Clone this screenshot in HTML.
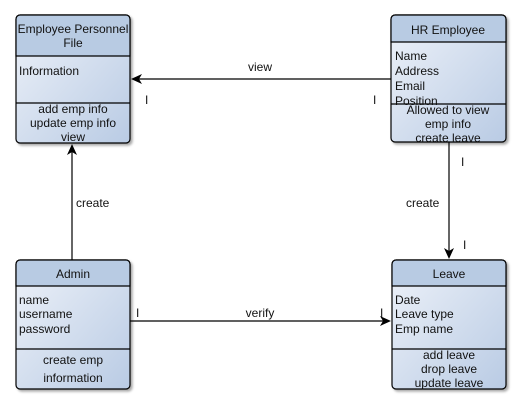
<!DOCTYPE html>
<html><head><style>body{margin:0;background:#fff}svg{display:block}text{font-family:"Liberation Sans",sans-serif;font-size:12px;fill:#111}</style></head><body>
<svg width="521" height="409" xmlns="http://www.w3.org/2000/svg">
<defs>
<linearGradient id="g" x1="0" y1="0" x2="1" y2="1"><stop offset="0" stop-color="#eef2f9"/><stop offset="1" stop-color="#b9cbe4"/></linearGradient>
<filter id="s" x="-10%" y="-10%" width="130%" height="130%"><feDropShadow dx="2" dy="2" stdDeviation="1.2" flood-color="#000" flood-opacity="0.35"/></filter>
</defs>
<g stroke="#000" stroke-width="1.2">
<rect x="16" y="15" width="114" height="128" rx="4" fill="url(#g)" filter="url(#s)"/>
<path d="M20 15h106a4 4 0 0 1 4 4v37H16V19a4 4 0 0 1 4-4z" fill="#b8cbe3"/>
<line x1="16" y1="103" x2="130" y2="103"/>
<rect x="391" y="15" width="115" height="127" rx="4" fill="url(#g)" filter="url(#s)"/>
<path d="M395 15h107a4 4 0 0 1 4 4v23H391V19a4 4 0 0 1 4-4z" fill="#b8cbe3"/>
<line x1="391" y1="104" x2="506" y2="104"/>
<rect x="16" y="260" width="114" height="129" rx="4" fill="url(#g)" filter="url(#s)"/>
<path d="M20 260h106a4 4 0 0 1 4 4v22H16v-22a4 4 0 0 1 4-4z" fill="#b8cbe3"/>
<line x1="16" y1="349" x2="130" y2="349"/>
<rect x="392" y="260" width="114" height="129" rx="4" fill="url(#g)" filter="url(#s)"/>
<path d="M396 260h106a4 4 0 0 1 4 4v22H392v-22a4 4 0 0 1 4-4z" fill="#b8cbe3"/>
<line x1="392" y1="349" x2="506" y2="349"/>
<line x1="391" y1="79" x2="134" y2="79"/>
<line x1="72" y1="260" x2="72" y2="147"/>
<line x1="449" y1="142" x2="449" y2="256"/>
<line x1="130" y1="321" x2="388" y2="321"/>
</g>
<g fill="#000">
<path d="M131 79l11-5-3 5 3 5z"/>
<path d="M72 144l-5 11 5-3 5 3z"/>
<path d="M449 259l-5-11 5 3 5-3z"/>
<path d="M391 321l-11-5 3 5-3 5z"/>
</g>
<g text-anchor="middle">
<text x="73" y="33">Employee Personnel</text><text x="73" y="47">File</text>
<text x="73" y="113">add emp info</text><text x="73" y="127">update emp info</text><text x="73" y="141">view</text>
<text x="448" y="34">HR Employee</text>
<text x="448" y="114">Allowed to view</text><text x="448" y="128">emp info</text><text x="448" y="142">create leave</text>
<text x="73" y="278">Admin</text>
<text x="73" y="364">create emp</text><text x="73" y="382">information</text>
<text x="449" y="278">Leave</text>
<text x="449" y="359">add leave</text><text x="449" y="373">drop leave</text><text x="449" y="387">update leave</text>
<text x="260" y="71">view</text>
<text x="260" y="317">verify</text>
</g>
<text x="19" y="75">Information</text>
<text x="395" y="60">Name</text><text x="395" y="75">Address</text><text x="395" y="90">Email</text><text x="395" y="105">Position</text>
<text x="19" y="304">name</text><text x="19" y="318">username</text><text x="19" y="333">password</text>
<text x="395" y="304">Date</text><text x="395" y="318">Leave type</text><text x="395" y="333">Emp name</text>
<text x="76" y="207">create</text>
<text x="406" y="207">create</text>
<text x="145" y="104">I</text><text x="373" y="104">I</text>
<text x="461" y="166">I</text><text x="463" y="249">I</text>
<text x="136" y="317">I</text><text x="380" y="317">I</text>
</svg>
</body></html>
